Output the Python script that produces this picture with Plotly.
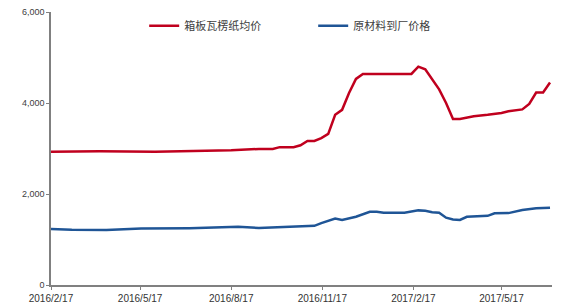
import plotly.graph_objects as go

red_dates = ["2016-02-17","2016-04-06","2016-06-01","2016-07-20","2016-08-17","2016-09-14",
             "2016-09-28","2016-10-05","2016-10-19","2016-10-26","2016-11-02","2016-11-09",
             "2016-11-16","2016-11-23","2016-11-30","2016-12-07","2016-12-14","2016-12-21",
             "2016-12-28","2017-02-15","2017-02-22","2017-03-01","2017-03-08","2017-03-15",
             "2017-03-22","2017-03-29","2017-04-05","2017-04-19","2017-05-03","2017-05-17",
             "2017-05-24","2017-06-07","2017-06-14","2017-06-21","2017-06-28","2017-07-05"]
red_values = [2930, 2940, 2930, 2940, 2960, 2990,
              2990, 3030, 3030, 3070, 3165, 3165,
              3230, 3320, 3740, 3850, 4220, 4530,
              4640, 4640, 4800, 4740, 4520, 4300,
              4000, 3650, 3650, 3710, 3740, 3780,
              3820, 3860, 3980, 4230, 4230, 4450]

blue_dates = ["2016-02-17","2016-03-09","2016-04-13","2016-05-18","2016-07-06","2016-08-24",
              "2016-09-14","2016-10-26","2016-11-09","2016-11-16","2016-11-30","2016-12-07",
              "2016-12-21","2017-01-04","2017-01-11","2017-01-18","2017-02-08","2017-02-22",
              "2017-03-01","2017-03-08","2017-03-15","2017-03-22","2017-03-29","2017-04-05",
              "2017-04-12","2017-05-03","2017-05-10","2017-05-24","2017-06-07","2017-06-21",
              "2017-07-05"]
blue_values = [1230, 1215, 1210, 1240, 1250, 1280,
               1255, 1290, 1300, 1360, 1460, 1430,
               1500, 1610, 1610, 1590, 1590, 1640,
               1630, 1600, 1590, 1480, 1440, 1430,
               1500, 1520, 1575, 1580, 1650, 1685,
               1700]

series_names = ["箱板瓦楞纸均价", "原材料到厂价格"]
x_tick_vals = ["2016-02-17","2016-05-17","2016-08-17","2016-11-17","2017-02-17","2017-05-17"]
x_tick_text = ["2016/2/17","2016/5/17","2016/8/17","2016/11/17","2017/2/17","2017/5/17"]
y_tick_vals = [0, 2000, 4000, 6000]
y_tick_text = ["0", "2,000", "4,000", "6,000"]

fig = go.Figure()
fig.add_trace(go.Scatter(x=red_dates, y=red_values, mode="lines", name=series_names[0],
                         line=dict(color="#C0001E", width=2.5)))
fig.add_trace(go.Scatter(x=blue_dates, y=blue_values, mode="lines", name=series_names[1],
                         line=dict(color="#1F5596", width=2.5)))

fig.update_layout(
    width=575, height=308,
    margin=dict(l=51, r=23, t=12, b=23, autoexpand=False),
    paper_bgcolor="white", plot_bgcolor="white",
    showlegend=True,
    hovermode=False,
    legend=dict(orientation="h", x=0.186, y=0.95, xanchor="left", yanchor="middle",
                font=dict(family="Noto Sans CJK SC", size=11, color="#404040"),
                entrywidth=124, entrywidthmode="pixels",
                bgcolor="rgba(0,0,0,0)"),
    xaxis=dict(type="date", range=["2016-02-17", "2017-07-07"],
               tickvals=x_tick_vals, ticktext=x_tick_text, automargin=False,
               showline=True, linecolor="#808080", linewidth=1.5,
               ticks="outside", ticklen=3, tickcolor="#808080",
               showgrid=False, zeroline=False,
               tickfont=dict(family="Liberation Sans", size=10, color="#333333")),
    yaxis=dict(range=[0, 6000], tickvals=y_tick_vals, ticktext=y_tick_text, automargin=False,
               showline=True, linecolor="#808080", linewidth=1.5,
               ticks="outside", ticklen=3, tickcolor="#808080",
               showgrid=False, zeroline=False,
               tickfont=dict(family="Liberation Sans", size=9, color="#404040")),
)

fig.write_html("out.html")
